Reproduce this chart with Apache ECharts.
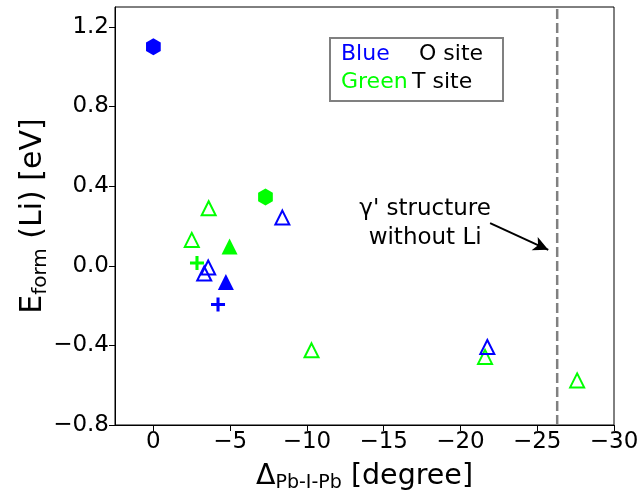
<!DOCTYPE html>
<html>
<head>
<meta charset="utf-8">
<script src="https://cdn.jsdelivr.net/npm/echarts@6/dist/echarts.min.js"></script>
<style>html,body{margin:0;padding:0;background:#fff;}#c{width:638px;height:493px;}</style>
</head>
<body>
<div id="c"></div>
<script>
// ---- data ----
const xTicks = [0, -5, -10, -15, -20, -25, -30];
const yTicks = [-0.8, -0.4, 0.0, 0.4, 0.8, 1.2];

const blueHexX = [0.0];          const blueHexY = [1.10];
const greenHexX = [-7.3];        const greenHexY = [0.345];
const blueOpenTriX = [-8.4, -3.57, -3.31, -21.75];
const blueOpenTriY = [0.242, -0.009, -0.039, -0.408];
const greenOpenTriX = [-3.6, -2.5, -10.3, -21.6, -27.6];
const greenOpenTriY = [0.289, 0.130, -0.425, -0.458, -0.576];
const blueFillTriX = [-4.72];    const blueFillTriY = [-0.082];
const greenFillTriX = [-4.96];   const greenFillTriY = [0.097];
const bluePlusX = [-4.21];       const bluePlusY = [-0.195];
const greenPlusX = [-2.84];      const greenPlusY = [0.014];

const refLineX = -26.3;
const arrowFrom = [-21.93, 0.214];
const arrowTo = [-25.72, 0.080];
const noteAt = [-17.7, 0.21];
const noteText = "γ' structure\nwithout Li";

// ---- helpers ----
const zip = (xs, ys) => xs.map((x, i) => [x, ys[i]]);
const minus = s => s.replace('-', '\u2212');
const FONT = 'DejaVu Sans';
const BLUE = '#0000ff', GREEN = '#00ff00';
const HEX = 'path://M0,-1 L0.866,-0.5 L0.866,0.5 L0,1 L-0.866,0.5 L-0.866,-0.5 Z';
const PLUS = 'path://M-0.22,-1 H0.22 V-0.22 H1 V0.22 H0.22 V1 H-0.22 V0.22 H-1 V-0.22 H-0.22 Z';

function sc(name, xs, ys, symbol, size, color, filled) {
  return {
    type: 'scatter', name, data: zip(xs, ys), symbol, symbolSize: size,
    symbolKeepAspect: true,
    itemStyle: filled ? { color: color, borderWidth: 0, opacity: 1 } :
      { color: 'rgba(0,0,0,0)', borderColor: color, borderWidth: 2, opacity: 1 },
    emphasis: { disabled: true }
  };
}

const chart = echarts.init(document.getElementById('c'), null, { renderer: 'canvas' });
chart.setOption({
  animation: false,
  textStyle: { fontFamily: FONT },
  grid: { left: 115, right: 24, top: 7, bottom: 68, containLabel: false, outerBoundsMode: 'none',
    show: true, borderColor: '#000', borderWidth: 1, backgroundColor: '#fff' },
  xAxis: {
    type: 'value', inverse: true, min: -30, max: 2.5, interval: 5,
    axisLine: { show: true, onZero: false, lineStyle: { color: '#000', width: 1 } },
    axisTick: { show: true, length: 6, customValues: xTicks, lineStyle: { color: '#000', width: 1 } },
    axisLabel: { customValues: xTicks, fontSize: 23, color: '#000', fontFamily: FONT, margin: 6,
      formatter: v => minus(String(v)) },
    splitLine: { show: false },
    name: '{a|Δ}{s|Pb-I-Pb}{a| [degree]}', nameLocation: 'middle', nameGap: 35,
    nameTextStyle: { rich: {
      a: { fontSize: 28.5, color: '#000', fontFamily: FONT },
      s: { fontSize: 19, color: '#000', fontFamily: FONT, padding: [14, 0, 0, 0] } } }
  },
  yAxis: {
    type: 'value', min: -0.8, max: 1.3, interval: 0.4,
    axisLine: { show: true, onZero: false, lineStyle: { color: '#000', width: 1 } },
    axisTick: { show: true, length: 6, customValues: yTicks, lineStyle: { color: '#000', width: 1 } },
    axisLabel: { customValues: yTicks, fontSize: 23, color: '#000', fontFamily: FONT, margin: 6,
      formatter: v => minus(v.toFixed(1)) },
    splitLine: { show: false },
    name: '{a|E}{s|form}{a| (Li) [eV]}', nameLocation: 'middle', nameGap: 64, nameRotate: 90,
    nameMoveOverlap: false,
    nameTextStyle: { rich: {
      a: { fontSize: 30, color: '#000', fontFamily: FONT },
      s: { fontSize: 20, color: '#000', fontFamily: FONT, padding: [15, 0, 0, 0] } } }
  },
  series: [
    {
      type: 'line', data: [[refLineX, -0.8], [refLineX, 1.3]], showSymbol: false, symbol: 'none',
      lineStyle: { color: '#808080', width: 2.5, type: [10, 4] }, silent: true,
      markLine: {
        silent: true, symbol: ['none', 'arrow'], symbolSize: [11, 15],
        lineStyle: { color: '#000', width: 2, type: 'solid' }, label: { show: false },
        data: [[{ coord: arrowFrom }, { coord: arrowTo }]]
      },
      markPoint: {
        silent: true, symbol: 'circle', symbolSize: 0,
        label: { show: true, position: 'inside', formatter: noteText, fontSize: 23, lineHeight: 29,
          color: '#000', fontFamily: FONT, align: 'center' },
        data: [{ coord: noteAt }]
      }
    },
    sc('greenOpenTri', greenOpenTriX, greenOpenTriY, 'triangle', 14, GREEN, false),
    sc('blueOpenTri', blueOpenTriX, blueOpenTriY, 'triangle', 14, BLUE, false),
    sc('greenFillTri', greenFillTriX, greenFillTriY, 'triangle', 16, GREEN, true),
    sc('blueFillTri', blueFillTriX, blueFillTriY, 'triangle', 16, BLUE, true),
    sc('greenPlus', greenPlusX, greenPlusY, PLUS, 14, GREEN, true),
    sc('bluePlus', bluePlusX, bluePlusY, PLUS, 14, BLUE, true),
    sc('greenHex', greenHexX, greenHexY, HEX, 17, GREEN, true),
    sc('blueHex', blueHexX, blueHexY, HEX, 17, BLUE, true)
  ],
  graphic: [
    { type: 'rect', shape: { x: 330, y: 38, width: 173, height: 63 },
      style: { fill: '#fff', stroke: '#808080', lineWidth: 2 }, z: 100 },
    { type: 'text', x: 341, y: 54, z: 101, style: { text: 'Blue', fill: BLUE, font: '22px "DejaVu Sans"', verticalAlign: 'middle' } },
    { type: 'text', x: 419, y: 54, z: 101, style: { text: 'O site', fill: '#000', font: '22px "DejaVu Sans"', verticalAlign: 'middle' } },
    { type: 'text', x: 341, y: 82, z: 101, style: { text: 'Green', fill: GREEN, font: '22px "DejaVu Sans"', verticalAlign: 'middle' } },
    { type: 'text', x: 412, y: 82, z: 101, style: { text: 'T site', fill: '#000', font: '22px "DejaVu Sans"', verticalAlign: 'middle' } }
  ]
});
</script>
</body>
</html>
